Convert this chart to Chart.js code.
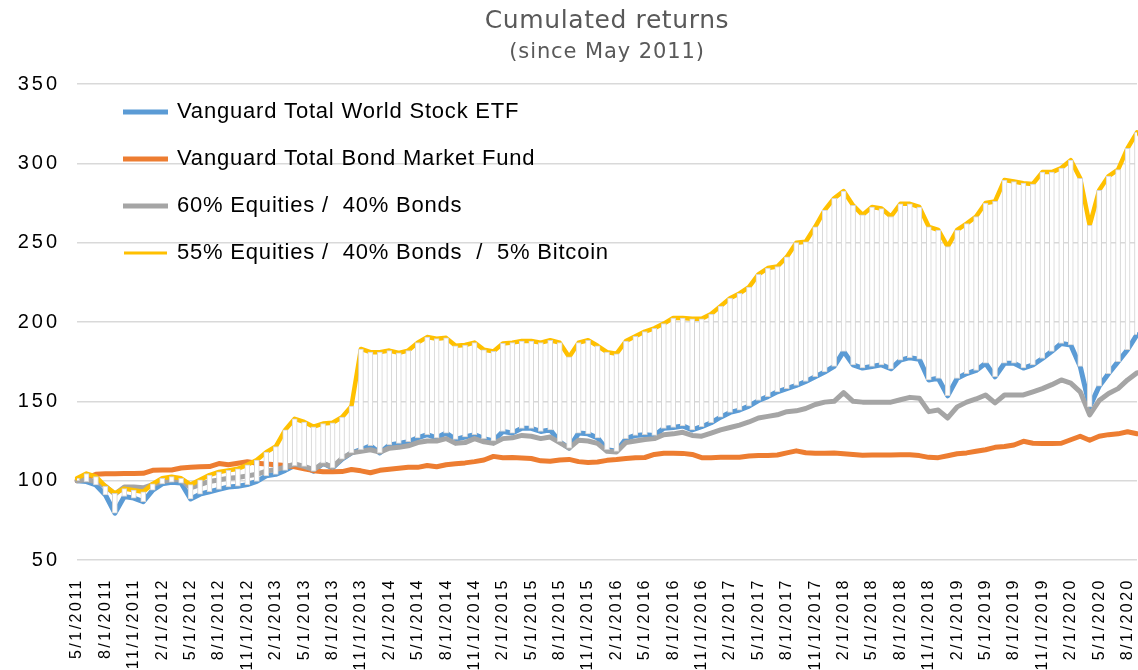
<!DOCTYPE html>
<html>
<head>
<meta charset="utf-8">
<script src="https://cdn.jsdelivr.net/npm/chart.js@4/dist/chart.umd.min.js"></script>
<style>
  html, body { margin: 0; padding: 0; background: #ffffff; }
  #c { display: block; }
</style>
</head>
<body>
<canvas id="c" width="1138" height="670" style="width:1138px;height:670px"></canvas>
<script>
// ---------- categories (monthly, 5/1/2011 .. 9/1/2020) ----------
const months = [];
for (let y = 2011, m = 5; !(y === 2020 && m === 10); ) {
  months.push(m + '/1/' + y);
  m++; if (m > 12) { m = 1; y++; }
}

// ---------- series values ----------
const worldStock = [
  100, 99.4, 97.3, 91, 79.5, 90, 89, 86.8, 94, 98, 99, 98.5,
  88.5, 91.5, 93, 94.5, 96, 96.5, 97.5, 99.5, 103, 104, 106.5, 109.5,
  109, 106, 111, 108, 113.5, 117.5, 119.5, 122, 117.5, 122.5, 123.5, 124.5,
  127, 129, 127, 130, 126, 127.5, 129, 126.5, 125, 131, 130, 133,
  133, 131, 132, 124.5, 120.5, 130, 129.5, 127, 119.5, 118.5, 126.5, 128.5,
  129, 128.5, 133, 133.5, 134.5, 132, 134, 136.5, 140, 143, 144.5, 147,
  150.5, 153, 156, 158, 160, 162.5, 165.5, 168.5, 172, 181.5, 173, 171,
  172, 173, 170.5, 176, 177.5, 176.5, 163.5, 164.5, 153.5, 164.5, 167.5, 169.5,
  174, 165.5, 174, 174, 171, 173, 177, 181.5, 186.5, 185.5, 172, 146.5,
  159.5, 167.5, 175, 182.5, 192
];
const bondFund = [
  100, 101.5, 104, 104.3, 104.3, 104.5, 104.5, 104.6, 106.5, 106.7, 106.7, 108,
  108.4, 108.8, 108.9, 110.8, 110, 111, 112, 111, 110.5, 110, 109.5, 108.8,
  107.5, 106.3, 105.6, 105.6, 105.7, 107, 106.2, 105, 106.5, 107.2, 107.8, 108.4,
  108.4, 109.6, 108.8, 110, 110.6, 111.2, 112, 113, 115.3, 114.5, 114.6, 114.3,
  114, 112.5, 112.2, 113, 113.4, 112, 111.5, 111.8, 112.8, 113.3, 114, 114.5,
  114.6, 116.5, 117.3, 117.3, 117.2, 116.5, 114.5, 114.5, 114.8, 114.7, 114.8, 115.5,
  115.8, 115.8, 116.2, 117.5, 118.8, 117.6, 117.3, 117.3, 117.4, 117, 116.5, 116,
  116.2, 116.2, 116.2, 116.4, 116.3, 115.8, 114.7, 114.5, 115.7, 117, 117.5, 118.5,
  119.5, 121, 121.5, 122.5, 124.8, 123.6, 123.5, 123.4, 123.6, 125.8, 128, 125.5,
  128, 129, 129.5, 130.8, 129.6
];
const mix6040 = [
  100, 100.5, 99.5, 96.5, 91.5, 96, 96, 95.5, 97.5, 99.5, 100.5, 100.5,
  95.5, 97.5, 99.5, 100.5, 101.5, 102, 103, 104, 106, 107, 108.5, 110.5,
  109, 107, 111, 108.5, 114, 117.5, 118.5, 119.5, 118, 120.5, 121, 122,
  124, 125, 125, 126.5, 123.5, 124, 126.5, 124.5, 123.5, 126.5, 127, 128.5,
  128, 126.5, 127.5, 124, 120.5, 125.5, 125, 123.5, 118.5, 118, 124, 125,
  126, 126.5, 129, 129.5, 130.5, 128.5, 128, 130, 132, 133.5, 135, 137,
  139.5, 140.5, 141.5, 143.5, 144, 145.5, 148, 149.5, 150, 155.5, 150, 149.5,
  149.5, 149.5, 149.5, 151, 152.5, 152, 143.5, 144.5, 139.5, 146.5, 149.5, 151.5,
  154, 149, 154, 154, 154, 156, 158, 160.5, 163.5, 161.5, 156, 141.5,
  150.5, 155, 158, 163.5, 168
];
const mixBitcoin = [
  101.5, 104.5, 102.5, 96.5, 92, 95, 94, 93, 98, 101.5, 102.5, 101.5,
  97.5, 100.5, 103.5, 105.5, 106.5, 107.5, 110, 113, 118, 121.5, 132, 139,
  137, 134, 136, 136.5, 140, 147, 183, 181, 181, 182, 180.5, 182,
  187, 190.5, 189.5, 190, 185, 185.5, 187, 182.5, 181.5, 186.5, 187, 188,
  188, 187, 188.5, 187, 178, 187, 188.5, 185, 181, 180, 188, 191,
  194, 196, 199, 202.5, 202.5, 202, 202, 205, 210, 215, 218, 222,
  230, 234, 235, 241, 250, 250.6, 260, 270.5, 278, 282.5, 273.5, 267.5,
  272.5, 271.5, 266.5, 274.5, 274.5, 272.5, 260, 258, 247.5, 258, 262, 266.5,
  275, 276, 289.5, 288.5, 287.5, 287, 294.5, 294.5, 297, 302, 290.5, 261,
  283, 292, 296, 309.5, 319.5
];

const seriesNames = [
  'Vanguard Total World Stock ETF',
  'Vanguard Total Bond Market Fund',
  '60% Equities /  40% Bonds',
  '55% Equities /  40% Bonds  /  5% Bitcoin'
];
const yTicks = [50, 100, 150, 200, 250, 300, 350];

// high-low span between the two series of the first chart group
const hiLo = worldStock.map((v, i) => [Math.min(v, mixBitcoin[i]), Math.max(v, mixBitcoin[i])]);

// ---------- letter spacing per font size (Excel-like spaced text) ----------
const SPACING = { 16: 2.5, 20: 3, 22: 0.8, 25: 0.6, 21: 0.9 };
function spacingFor(font) {
  const m = /(\d+(?:\.\d+)?)px/.exec(font);
  const s = m ? Math.round(parseFloat(m[1])) : 0;
  return (SPACING[s] || 0) + 'px';
}
const canvas = document.getElementById('c');
const ctx = canvas.getContext('2d');
const _fill = ctx.fillText, _meas = ctx.measureText;
ctx.fillText = function (t, x, y, w) {
  this.letterSpacing = spacingFor(this.font);
  return (w === undefined) ? _fill.call(this, t, x, y) : _fill.call(this, t, x, y, w);
};
ctx.measureText = function (t) {
  this.letterSpacing = spacingFor(this.font);
  return _meas.call(this, t);
};

const legendShift = {
  id: 'legendShift',
  afterLayout(chart) {
    const lg = chart.legend, ca = chart.chartArea;
    if (lg) {
      lg.left = ca.left + 23;
      lg.right = ca.right;
      lg.top = ca.top - 8;
      lg.bottom = ca.bottom;
    }
  }
};

const lineColors = ['#5B9BD5', '#ED7D31', '#A5A5A5', '#FFC000'];
const lineValues = [worldStock, bondFund, mix6040, mixBitcoin];
const drawOrder = [4, 3, 2, 1];

const datasets = lineValues.map((vals, k) => ({
  type: 'line',
  label: seriesNames[k],
  data: vals,
  borderColor: lineColors[k],
  backgroundColor: lineColors[k],
  borderWidth: k === 3 ? 4.5 : 5,
  borderJoinStyle: 'round',
  borderCapStyle: 'round',
  pointRadius: 0,
  tension: 0,
  fill: false,
  order: drawOrder[k]
}));
datasets.push({
  type: 'bar',
  label: 'hilo',
  data: hiLo,
  backgroundColor: '#ffffff',
  borderColor: '#d4d4d4',
  borderWidth: 1,
  borderSkipped: false,
  barThickness: 5,
  order: 0
});

new Chart(ctx, {
  type: 'line',
  data: { labels: months, datasets },
  options: {
    responsive: false,
    animation: false,
    layout: { padding: { left: 0, right: 1, top: 0, bottom: 0 } },
    plugins: {
      tooltip: { enabled: false },
      title: {
        display: true,
        text: 'Cumulated returns',
        color: '#595959',
        fullSize: false,
        font: { family: 'DejaVu Sans', size: 25, weight: 'normal', lineHeight: 1.2 },
        padding: { top: 6, bottom: 0 }
      },
      subtitle: {
        display: true,
        text: '(since May 2011)',
        color: '#595959',
        fullSize: false,
        font: { family: 'DejaVu Sans', size: 21, weight: 'normal', lineHeight: 1.2 },
        padding: { top: 4, bottom: 18.8 }
      },
      legend: {
        display: true,
        position: 'chartArea',
        align: 'start',
        labels: {
          color: '#000000',
          font: { family: 'Liberation Sans', size: 22 },
          boxWidth: 41,
          boxHeight: 1,
          padding: 25,
          filter: (item) => item.datasetIndex < 4,
          sort: (a, b) => a.datasetIndex - b.datasetIndex,
          generateLabels: (chart) => {
            const items = Chart.defaults.plugins.legend.labels.generateLabels(chart);
            return items.map(it => {
              const c = lineColors[it.datasetIndex] || '#fff';
              it.fillStyle = c;
              it.strokeStyle = c;
              it.lineWidth = it.datasetIndex === 3 ? 2 : 4;
              it.lineCap = 'butt';
              it.lineJoin = 'miter';
              it.lineDash = [];
              return it;
            });
          }
        }
      }
    },
    scales: {
      x: {
        type: 'category',
        offset: false,
        grid: { display: false },
        border: { display: false },
        ticks: {
          autoSkip: false,
          minRotation: 90,
          maxRotation: 90,
          padding: 10,
          color: '#000000',
          font: { family: 'Liberation Sans', size: 16 },
          callback: function (val, idx) { return idx % 3 === 0 ? months[idx] : null; }
        },
        afterFit(scale) { scale.height = 110; scale.paddingRight = 0; scale.paddingLeft = 0; }
      },
      y: {
        min: yTicks[0],
        max: yTicks[yTicks.length - 1],
        grid: { color: '#d9d9d9', lineWidth: 1.5, drawTicks: false },
        border: { display: false },
        afterBuildTicks(scale) { scale.ticks = yTicks.map(v => ({ value: v })); },
        ticks: {
          padding: 17,
          color: '#000000',
          font: { family: 'Liberation Sans', size: 20 }
        },
        afterFit(scale) { scale.width = 77; }
      }
    }
  },
  plugins: [legendShift]
});
</script>
</body>
</html>
